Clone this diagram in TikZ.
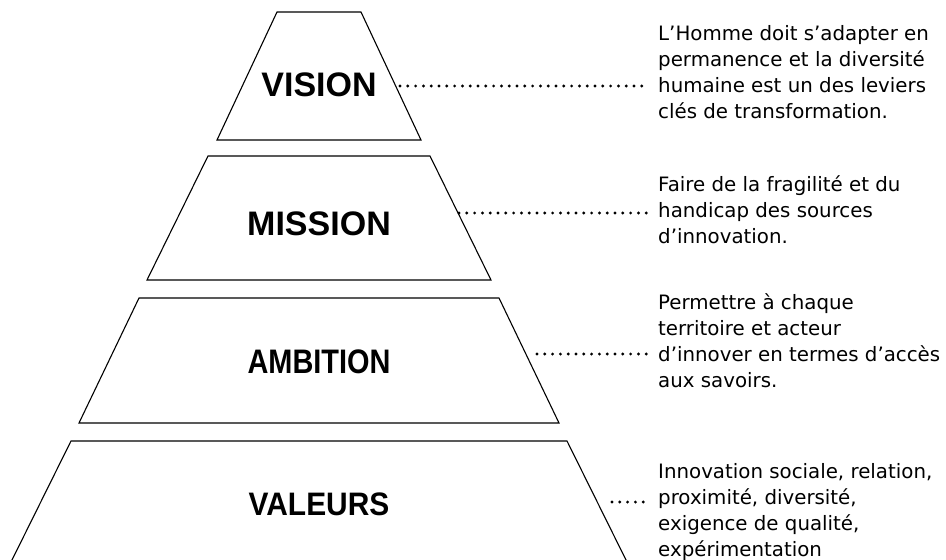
\documentclass[tikz,border=0pt]{standalone}
\usepackage{fontspec}
\setmainfont{DejaVu Sans}
\newfontfamily\tagfont{Liberation Sans}
\newfontfamily\tagfontA[FakeStretch=0.85]{Liberation Sans}
\newfontfamily\tagfontB[FakeStretch=0.92]{Liberation Sans}
\usepackage{tikz}

\begin{document}
\begin{tikzpicture}[x=1pt,y=-1pt,layer/.style={draw=black,line width=1.1pt},tag/.style={inner sep=0pt,font=\tagfont\bfseries\fontsize{34}{34}\selectfont},note/.style={inner sep=0pt,anchor=north west,align=left,font=\fontsize{19.8}{26}\selectfont},dotlink/.style={line width=3.2pt,line cap=round,dash pattern=on 0pt off 7.8pt,shorten >=11pt}]
\def\cx{319};
\def\tx{658};

\useasboundingbox (0,0) rectangle (946,560);
\clip (0,0) rectangle (946,560);

% pyramid layers
\draw[layer] (\cx-42,12) -- (\cx+42,12) -- (\cx+102,140) -- (\cx-102,140) -- cycle;
\draw[layer] (\cx-111,156) -- (\cx+111,156) -- (\cx+172,280) -- (\cx-172,280) -- cycle;
\draw[layer] (\cx-180,298) -- (\cx+180,298) -- (\cx+240,423) -- (\cx-240,423) -- cycle;
\draw[layer] (\cx-248,441) -- (\cx+248,441) -- (\cx+310,566) -- (\cx-310,566) -- cycle;

\node[tag] (vision) at (\cx,84.5) {VISION};
\node[tag] (mission) at (\cx,224) {MISSION};
\node[tag,font=\tagfontA\bfseries\fontsize{34}{34}\selectfont] (ambition) at (\cx,362) {AMBITION};
\node[tag,font=\tagfontB\bfseries\fontsize{32.5}{32.5}\selectfont] (valeurs) at (\cx,504) {VALEURS};

% texts
\node[note] (visionT) at (\tx,25) {L’Homme doit s’adapter en\\permanence et la diversité\\humaine est un des leviers\\clés de transformation.};
\node[note] (missionT) at (\tx,175) {Faire de la fragilité et du\\handicap des sources\\d’innovation.};
\node[note] (ambitionT) at (\tx,293) {Permettre à chaque\\territoire et acteur\\d’innover en termes d’accès\\aux savoirs.};
\node[note] (valeursT) at (\tx,463) {Innovation sociale, relation,\\proximité, diversité,\\exigence de qualité,\\expérimentation};

% dotted links
\coordinate (visionE) at (400,86);
\coordinate (missionE) at (459,213);
\coordinate (ambitionE) at (537,354);
\coordinate (valeursE) at (612,502);
\draw[dotlink] (visionE) -- (visionE -| visionT.west);
\draw[dotlink] (missionE) -- (missionE -| missionT.west);
\draw[dotlink] (ambitionE) -- (ambitionE -| ambitionT.west);
\draw[dotlink] (valeursE) -- (valeursE -| valeursT.west);
\end{tikzpicture}
\end{document}
